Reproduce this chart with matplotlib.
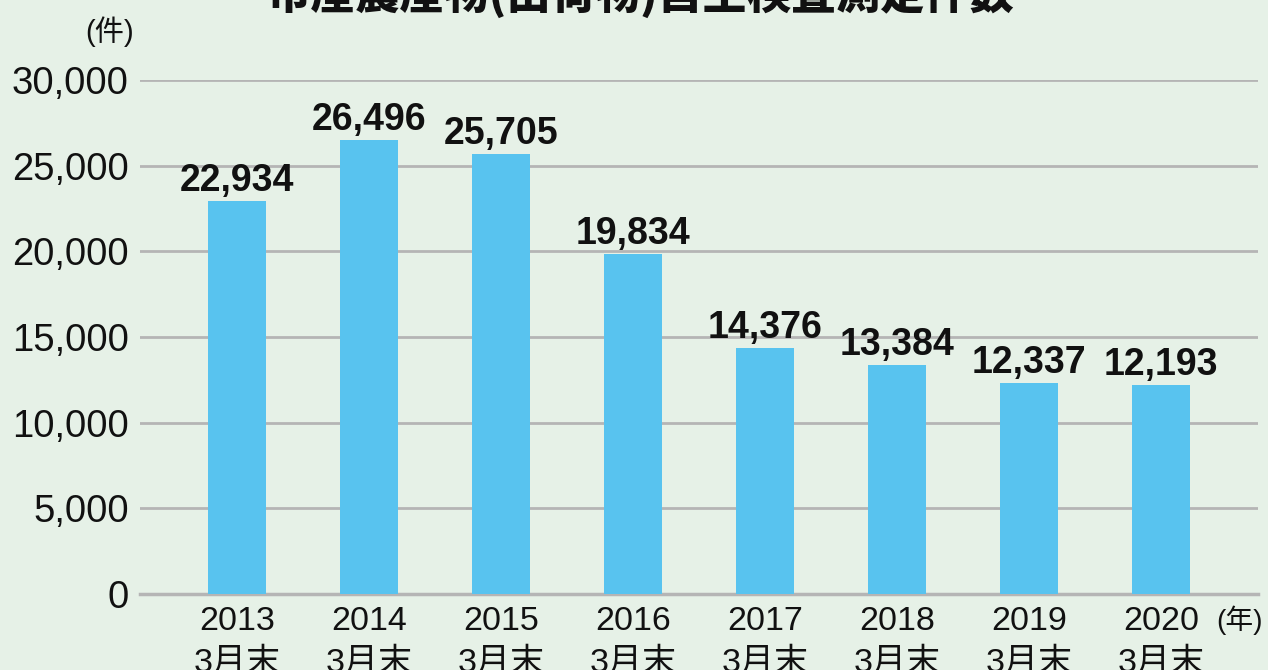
import matplotlib
matplotlib.use("Agg")
import matplotlib.pyplot as plt

years = ["2013", "2014", "2015", "2016", "2017", "2018", "2019", "2020"]
suffix = "3月末"
values = [22934, 26496, 25705, 19834, 14376, 13384, 12337, 12193]
yticks = [0, 5000, 10000, 15000, 20000, 25000, 30000]
title = "市産農産物(出荷物)自主検査測定件数"

bg = "#e6f1e7"
bar_color = "#58c3ef"
grid_color = "#b5b5b5"
fam = ["Liberation Sans", "Noto Sans CJK JP", "DejaVu Sans"]
plt.rcParams["font.family"] = fam

fig = plt.figure(figsize=(12.68, 6.70), dpi=100, facecolor=bg)
ax = fig.add_axes([140/1268, 76/670, (1258-140)/1268, (594-80)/670])
ax.set_facecolor(bg)

x = list(range(len(years)))
ax.bar(x, values, width=0.44, color=bar_color, zorder=3)
for xi, v in zip(x, values):
    ax.text(xi, v + 120, f"{v:,}", ha="center", va="bottom",
            fontsize=27, fontweight="bold", color="#111111", zorder=4)

ax.set_xlim(-0.735, 7.735)
ax.set_ylim(0, 30000)
ax.set_yticks(yticks)
ax.set_yticklabels([f"{t:,}" for t in yticks], fontsize=27.5, color="#111111")
ax.set_xticks(x)
ax.set_xticklabels([f"{y}\n{suffix}" for y in years], fontsize=24.5,
                   color="#111111", linespacing=1.4)
ax.tick_params(axis="both", length=0)
ax.tick_params(axis="y", pad=8)
ax.tick_params(axis="x", pad=9)
ax.grid(axis="y", color=grid_color, linewidth=2, zorder=0)
for s in ["top", "right", "left"]:
    ax.spines[s].set_visible(False)
ax.spines["bottom"].set_color(grid_color)
ax.spines["bottom"].set_linewidth(2.5)

fig.text(110/1268, 1 - 32/670, "(件)", ha="center", va="center",
         fontsize=21, color="#111111")
fig.text(1239/1268, 1 - 620/670, "(年)", ha="center", va="center",
         fontsize=20, color="#111111")
fig.text(640/1268, 1 - 9/670, title, ha="center", va="baseline",
         fontsize=32, fontweight="black", color="#111111",
         family=["Noto Sans CJK JP", "DejaVu Sans"])

fig.savefig("out.png", dpi=100, facecolor=bg)
